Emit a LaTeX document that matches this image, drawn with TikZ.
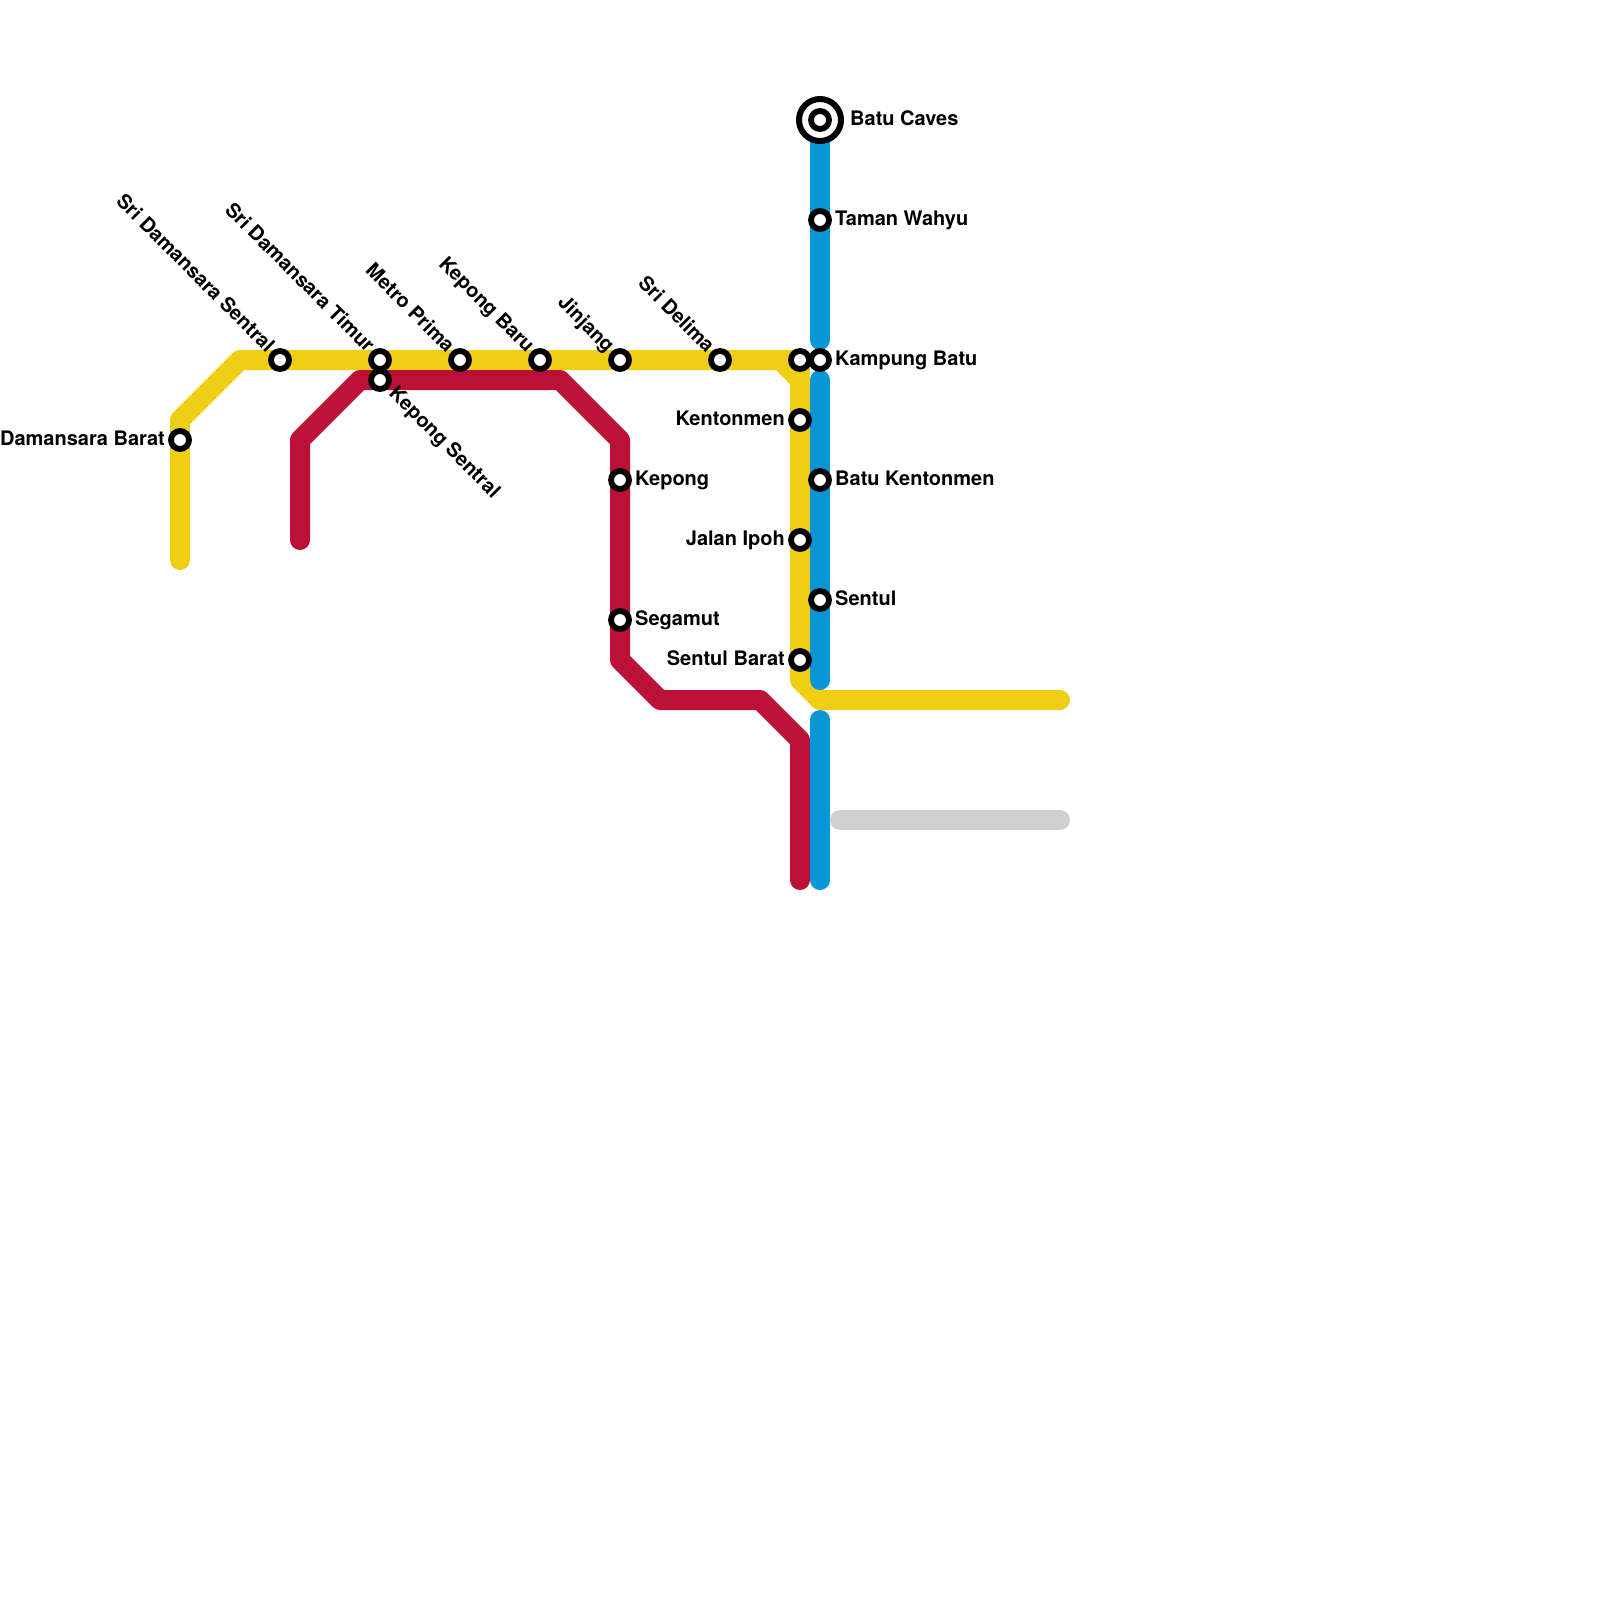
\documentclass[tikz,border=0pt]{standalone}
\usepackage{fontspec}
\setmainfont{TeX Gyre Heros}
\definecolor{kjyellow}{HTML}{F0CE15}
\definecolor{kjred}{HTML}{BD1038}
\definecolor{kjblue}{HTML}{0896D7}
\definecolor{kjgray}{HTML}{D0D0D0}
\begin{document}
\begin{tikzpicture}[x=1pt,y=-1pt,
    track/.style={line width=20pt,line cap=round,line join=round},
    stn/.style={circle,draw=black,fill=white,line width=5.8pt,minimum size=18pt,inner sep=0pt},
    term/.style={circle,draw=black,fill=white,line width=6pt,minimum size=42pt,inner sep=0pt},
    lbl/.style={inner sep=0pt,text height=14.4pt,text depth=0pt,font=\bfseries\fontsize{20}{24}\selectfont}]
    \useasboundingbox (0,0) rectangle (1600,1600);
    \draw[track,kjyellow] (180,560) -- (180,420) -- (240,360) -- (780,360) -- (800,380) -- (800,680) -- (820,700) -- (1060,700);
    \draw[track,kjyellow] (780,360) -- (800,360) -- (800,380);
    \draw[track,kjred] (300,540) -- (300,440) -- (360,380) -- (560,380) -- (620,440) -- (620,660) -- (660,700) -- (760,700) -- (800,740) -- (800,880);
    \draw[track,kjblue] (820,120) -- (820,340);
    \draw[track,kjblue] (820,380) -- (820,680);
    \draw[track,kjblue] (820,720) -- (820,880);
    \draw[track,kjgray] (840,820) -- (1060,820);
    % yellow line
    \node[stn] (damansara) at (180,440) {};
    \node[lbl,anchor=east] (damansaralbl) at (165,438) {Damansara Barat};
    \node[stn] (sentral) at (280,360) {};
    \node[lbl,anchor=east,rotate=-45] (sentrallbl) at (271.5,348.5) {Sri Damansara Sentral};
    \node[stn] (timur) at (380,360) {};
    \node[lbl,anchor=east,rotate=-45] (timurlbl) at (371.5,348.5) {Sri Damansara Timur};
    \node[stn] (prima) at (460,360) {};
    \node[lbl,anchor=east,rotate=-45] (primalbl) at (451.5,348.5) {Metro Prima};
    \node[stn] (baru) at (540,360) {};
    \node[lbl,anchor=east,rotate=-45] (barulbl) at (531.5,348.5) {Kepong Baru};
    \node[stn] (jinjang) at (620,360) {};
    \node[lbl,anchor=east,rotate=-45] (jinjanglbl) at (611.5,348.5) {Jinjang};
    \node[stn] (delima) at (720,360) {};
    \node[lbl,anchor=east,rotate=-45] (delimalbl) at (711.5,348.5) {Sri Delima};
    \node[stn] (kgbatuy) at (800,360) {};
    \node[stn] (kentonmen) at (800,420) {};
    \node[lbl,anchor=east] (kentonmenlbl) at (785,418) {Kentonmen};
    \node[stn] (ipoh) at (800,540) {};
    \node[lbl,anchor=east] (ipohlbl) at (785,538) {Jalan Ipoh};
    \node[stn] (sentulb) at (800,660) {};
    \node[lbl,anchor=east] (sentulblbl) at (785,658) {Sentul Barat};
    % red line
    \node[stn] (kepsen) at (380,380) {};
    \node[lbl,anchor=west,rotate=-45] (kepsenlbl) at (393,389.5) {Kepong Sentral};
    \node[stn] (kepong) at (620,480) {};
    \node[lbl,anchor=west] (keponglbl) at (635,478) {Kepong};
    \node[stn] (segamut) at (620,620) {};
    \node[lbl,anchor=west] (segamutlbl) at (635,618) {Segamut};
    % blue line
    \node[term] (caves) at (820,120) {};
    \node[stn] (cavesin) at (820,120) {};
    \node[lbl,anchor=west] (caveslbl) at (850,118) {Batu Caves};
    \node[stn] (wahyu) at (820,220) {};
    \node[lbl,anchor=west] (wahyulbl) at (835,218) {Taman Wahyu};
    \node[stn] (kgbatu) at (820,360) {};
    \node[lbl,anchor=west] (kgbatulbl) at (835,358) {Kampung Batu};
    \node[stn] (batuken) at (820,480) {};
    \node[lbl,anchor=west] (batukenlbl) at (835,478) {Batu Kentonmen};
    \node[stn] (sentul) at (820,600) {};
    \node[lbl,anchor=west] (sentullbl) at (835,598) {Sentul};
\end{tikzpicture}
\end{document}
